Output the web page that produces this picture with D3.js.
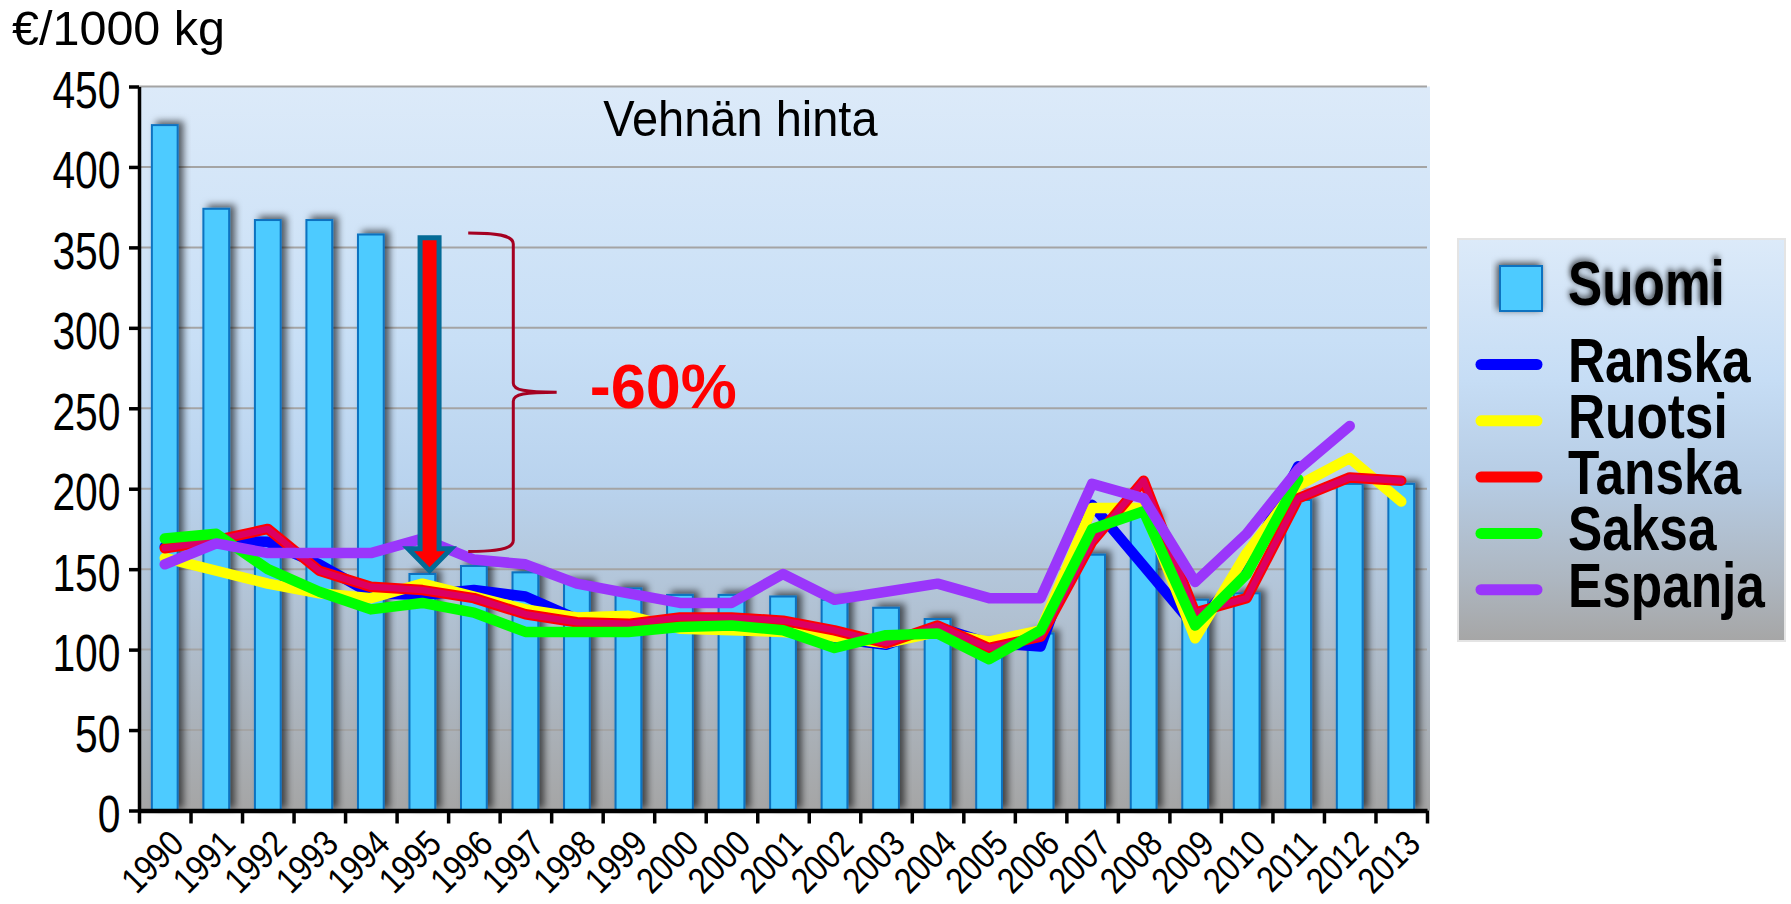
<!DOCTYPE html>
<html>
<head>
<meta charset="utf-8">
<script src="https://cdn.jsdelivr.net/npm/d3@7"></script>
<style>
  body { margin: 0; background: #ffffff; }
  svg { display: block; font-family: "Liberation Sans", Arial, sans-serif; }
</style>
</head>
<body>
<svg id="chart" width="1791" height="904"></svg>
<script>
// ---------------- DATA ----------------
const categories = ["1990","1991","1992","1993","1994","1995","1996","1997","1998","1999",
                    "2000","2000","2001","2002","2003","2004","2005","2006","2007","2008",
                    "2009","2010","2011","2012","2013"];
const suomi   = [426, 374, 367, 367, 358, 147, 152, 148, 142, 138, 134, 134, 133, 131, 126, 119, 103, 110, 159, 183, 131, 135, 193, 203, 203];
const ranska  = [164, 168, 167, 153, 135, 134, 137, 133, 119, 117, 117, 117, 116, 107, 103, 114, 104, 102, 190, 152, 114, 152, 214, null, null];
const ruotsi  = [157, 149, 141, 135, 132, 141, 133, 125, 120, 121, 113, 112, 111, 108, 104, 111, 105, 112, 188, 188, 107, 160, 202, 219, 192];
const tanska  = [163, 168, 175, 149, 139, 137, 132, 122, 117, 116, 120, 120, 118, 112, 104, 115, 101, 108, 167, 205, 123, 132, 194, 207, 205];
const saksa   = [169, 172, 150, 136, 125, 129, 123, 111, 111, 111, 114, 115, 112, 101, 109, 110,  94, 112, 175, 186, 115, 147, 206, null, null];
const espanja = [153, 166, 160, 160, 160, 169, 156, 153, 141, 135, 129, 129, 147, 131, 136, 141, 132, 132, 203, 194, 142, 172, 212, 239, null];
const yTicks = [0, 50, 100, 150, 200, 250, 300, 350, 400, 450];
const seriesNames = ["Ranska", "Ruotsi", "Tanska", "Saksa", "Espanja"];
const seriesValues = [ranska, ruotsi, tanska, saksa, espanja];
const seriesColors = ["#0000ff", "#ffff00", "#ff0000", "#00ff00", "#9a36fb"];
const barName = "Suomi";
const unitLabel = "€/1000 kg";
const titleLabel = "Vehnän hinta";
const changeLabel = "-60%";
const arrowFrom = 356, arrowTo = 149;   // values of the arrow
const braceTop = 359, braceBottom = 161;

// ---------------- LAYOUT ----------------
const svg = d3.select("#chart");
const pLeft = 139, pRight = 1427, pTop = 86.5, pBottom = 810.5;

const y = d3.scaleLinear().domain([0, 450]).range([pBottom, pTop]);
const xb = d3.scaleBand().domain(d3.range(categories.length)).range([pLeft, pRight])
  .paddingInner(0.5).paddingOuter(0.25);
const xEdge = d3.scaleLinear().domain([0, categories.length]).range([pLeft, pRight]);
const cx = i => xb(i) + xb.bandwidth() / 2;

const defs = svg.append("defs");
function grad(id, stops) {
  const g = defs.append("linearGradient").attr("id", id)
    .attr("x1", 0).attr("y1", 0).attr("x2", 0).attr("y2", 1);
  stops.forEach(s => g.append("stop").attr("offset", s[0]).attr("stop-color", s[1]));
}
grad("plotBg", [[0, "#dceaf9"], [0.35, "#c8dff6"], [0.55, "#b9d3ee"], [0.75, "#b0bfcf"], [1, "#a5a5a5"]]);
grad("legBg", [[0, "#dceaf9"], [0.35, "#c6ddf5"], [0.6, "#b6cce4"], [0.85, "#adb6c0"], [1, "#a6a6a6"]]);

const fBar = defs.append("filter").attr("id", "barShadow")
  .attr("x", "-30%").attr("y", "-10%").attr("width", "180%").attr("height", "130%");
fBar.append("feDropShadow").attr("dx", 5).attr("dy", -3).attr("stdDeviation", 3.5)
  .attr("flood-color", "#000").attr("flood-opacity", 0.6);
const fTxt = defs.append("filter").attr("id", "txtShadow")
  .attr("x", "-20%").attr("y", "-30%").attr("width", "140%").attr("height", "160%");
fTxt.append("feDropShadow").attr("dx", -2).attr("dy", -2).attr("stdDeviation", 3.5)
  .attr("flood-color", "#000").attr("flood-opacity", 0.7);

// plot background
svg.append("rect").attr("x", pLeft).attr("y", pTop).attr("width", pRight - pLeft + 3)
  .attr("height", pBottom - pTop).attr("fill", "url(#plotBg)");

// gridlines
svg.append("g").selectAll("line").data(yTicks.filter(v => v > 0)).join("line")
  .attr("x1", pLeft).attr("x2", pRight).attr("y1", d => y(d)).attr("y2", d => y(d))
  .attr("stroke", "#a4a4a4").attr("stroke-width", 2);

// bars
svg.append("g").selectAll("rect").data(suomi).join("rect")
  .attr("x", (d, i) => xb(i)).attr("width", xb.bandwidth())
  .attr("y", d => y(d)).attr("height", d => y(0) - y(d))
  .attr("fill", "#4ecbff").attr("stroke", "#0b72c0").attr("stroke-width", 2)
  .attr("filter", "url(#barShadow)");

// lines
const lineGen = d3.line().defined(d => d != null).x((d, i) => cx(i)).y(d => y(d));
seriesValues.forEach((vals, k) => {
  svg.append("path").datum(vals).attr("d", lineGen).attr("fill", "none")
    .attr("stroke", seriesColors[k]).attr("stroke-width", 10.5)
    .attr("stroke-linejoin", "round").attr("stroke-linecap", "round");
  if (seriesNames[k] === "Tanska") {
    svg.append("path").datum(vals).attr("d", lineGen).attr("fill", "none")
      .attr("stroke", "#dc0062").attr("stroke-width", 6.5)
      .attr("stroke-linejoin", "round").attr("stroke-linecap", "round");
  }
});

// axes
const yAxis = svg.append("g").attr("transform", `translate(${pLeft},0)`)
  .call(d3.axisLeft(y).tickValues(yTicks).tickSize(10).tickSizeOuter(0).tickFormat(""));
yAxis.select(".domain").attr("stroke", "#000").attr("stroke-width", 3.5);
yAxis.selectAll(".tick line").attr("stroke", "#000").attr("stroke-width", 3.5);

const xAxis = svg.append("g").attr("transform", `translate(0,${pBottom})`)
  .call(d3.axisBottom(xEdge).tickValues(d3.range(categories.length + 1))
    .tickSize(13).tickSizeOuter(0).tickFormat(""));
xAxis.select(".domain").attr("stroke", "#000").attr("stroke-width", 4.5);
xAxis.selectAll(".tick line").attr("stroke", "#000").attr("stroke-width", 3.5);

// y tick labels (condensed)
svg.append("g").selectAll("text").data(yTicks).join("text")
  .attr("transform", d => `translate(120.5,${y(d) + 21.5}) scale(0.785,1)`)
  .attr("text-anchor", "end").attr("font-size", 52).attr("fill", "#000")
  .text(d => d);

// x tick labels
svg.append("g").selectAll("text").data(categories).join("text")
  .attr("transform", (d, i) => `translate(${cx(i) + 21},846) rotate(-45) scale(0.86,1)`)
  .attr("text-anchor", "end").attr("font-size", 36.5).attr("fill", "#000")
  .text(d => d);

// unit label and title
svg.append("text").attr("x", 12).attr("y", 45).attr("font-size", 48.5).attr("fill", "#000").text(unitLabel);
svg.append("text").attr("transform", `translate(${xEdge(9.0) + 0.5},136) scale(0.94,1)`)
  .attr("font-size", 50).attr("fill", "#000").text(titleLabel);

// arrow
const ax = xEdge(5.64), a0 = y(arrowFrom), a1 = y(arrowTo);
const sw = 9.5, hw = 21.5, headLen = 22;
svg.append("path")
  .attr("d", `M${ax - sw},${a0} L${ax + sw},${a0} L${ax + sw},${a1 - headLen} L${ax + hw},${a1 - headLen} L${ax},${a1} L${ax - hw},${a1 - headLen} L${ax - sw},${a1 - headLen} Z`)
  .attr("fill", "#ff0000").attr("stroke", "#046b96").attr("stroke-width", 5).attr("stroke-linejoin", "miter");

// brace
const bl = xEdge(6.39), bs = xEdge(7.265), bt = xEdge(8.107);
const yT = y(braceTop), yB = y(braceBottom), yM = (yT + yB) / 2;
svg.append("path")
  .attr("d", `M${bl},${yT} C${bl + 27},${yT} ${bs},${yT + 2} ${bs},${yT + 11} L${bs},${yM - 9} C${bs},${yM - 2} ${bs + 12},${yM} ${bt},${yM} C${bs + 12},${yM} ${bs},${yM + 2} ${bs},${yM + 9} L${bs},${yB - 11} C${bs},${yB - 2} ${bl + 27},${yB} ${bl},${yB}`)
  .attr("fill", "none").attr("stroke", "#a50021").attr("stroke-width", 3);

// -60% label
svg.append("text").attr("x", xEdge(8.75)).attr("y", 408).attr("font-size", 63)
  .attr("font-weight", "bold").attr("fill", "#ff0000").text(changeLabel);

// legend
const lg = svg.append("g");
lg.append("rect").attr("x", 1458).attr("y", 239).attr("width", 327).attr("height", 402)
  .attr("fill", "url(#legBg)").attr("stroke", "#e4e4e4").attr("stroke-width", 2);
lg.append("rect").attr("x", 1500).attr("y", 266).attr("width", 42).attr("height", 45)
  .attr("fill", "#4ecbff").attr("stroke", "#0b72c0").attr("stroke-width", 2)
  .attr("filter", "url(#txtShadow)");
lg.append("text").attr("transform", "translate(1568,305) scale(0.815,1)")
  .attr("font-size", 63).attr("font-weight", "bold").attr("fill", "#000")
  .attr("filter", "url(#txtShadow)").text(barName);
seriesNames.forEach((name, k) => {
  const ly = 364.5 + k * 56.3;
  lg.append("line").attr("x1", 1481).attr("x2", 1537).attr("y1", ly).attr("y2", ly)
    .attr("stroke", seriesColors[k]).attr("stroke-width", 11).attr("stroke-linecap", "round");
  lg.append("text").attr("transform", `translate(1568,${ly + 17}) scale(0.815,1)`)
    .attr("font-size", 63).attr("font-weight", "bold").attr("fill", "#000").text(name);
});
</script>
</body>
</html>
